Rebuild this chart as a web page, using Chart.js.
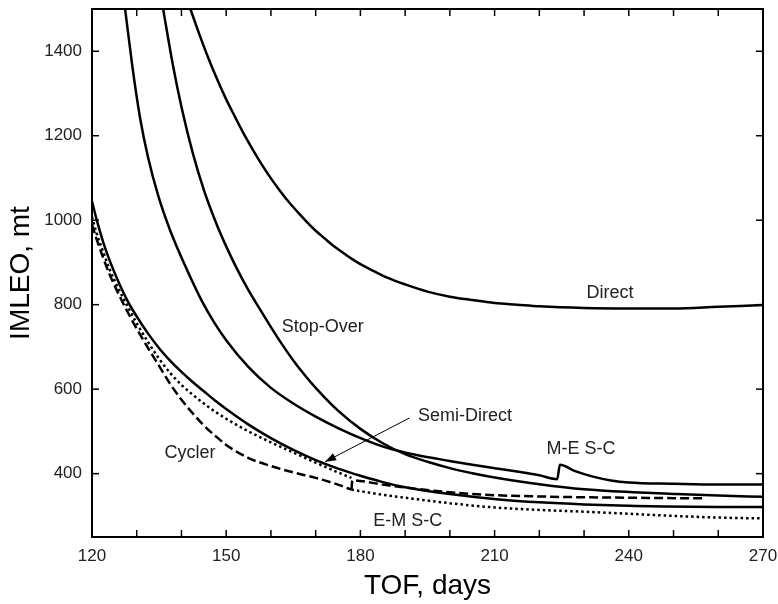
<!DOCTYPE html>
<html>
<head>
<meta charset="utf-8">
<script src="https://cdn.jsdelivr.net/npm/chart.js@4.4.0/dist/chart.umd.min.js"></script>
<style>
  html, body { margin: 0; padding: 0; background: #fff; }
  canvas { display: block; }
</style>
</head>
<body>
<canvas id="graficoImleo" width="778" height="604"></canvas>
<script>
// ===================== DATOS =====================
// TOF (days) -> IMLEO (mt)

const directX = [142, 144, 146, 148, 150, 152, 154, 156, 158, 160, 162, 164, 166, 168, 170, 172, 174, 176, 178, 180, 182, 186, 190, 195, 200, 205, 210, 215, 220, 230, 240, 250, 260, 270];
const directY = [1500, 1440, 1384, 1333, 1286, 1244, 1203, 1166, 1131, 1099, 1070, 1043, 1019, 996, 975, 957, 939, 924, 909, 896, 885, 864, 848, 831, 819, 811, 804, 800, 796, 792, 791, 791, 795, 799];

const stopOverX = [135.9, 138, 140, 142.5, 145, 147.5, 150, 152.5, 155, 157.5, 160, 162.5, 165, 167.5, 170, 175, 180, 185, 190, 195, 200, 205, 211, 220, 230, 241, 250, 260, 270];
const stopOverY = [1500, 1372, 1268, 1160, 1072, 1000, 938, 883, 834, 790, 747, 706, 668, 634, 603, 549, 506, 472, 446, 428, 413, 401, 389, 375, 363, 356, 352, 348, 345];

const mescX = [127.4, 129, 130.7, 132.5, 134.8, 137.5, 140.7, 144.4, 147.2, 150, 155, 160, 165, 170, 175, 181, 186, 192.6, 200, 205, 210, 215, 220, 224, 224.6, 228, 232, 236, 240, 250, 260, 270];
const mescY = [1500, 1366, 1245, 1150, 1058, 975, 895, 812, 760, 716, 652, 603, 566, 535, 508, 480, 461, 444, 430, 421, 413, 405, 396, 387, 421, 406, 393, 384, 379, 376, 374, 374];

const semiDirectX = [120, 121, 122.5, 124, 126, 128, 130, 132.5, 135, 137.5, 140, 142.5, 145, 147.5, 150, 155, 160, 165, 170, 175, 180, 185, 190, 200, 211, 220, 230, 240, 248, 260, 270];
const semiDirectY = [1045, 1003, 948, 903, 852, 808, 772, 732, 697, 667, 641, 617, 595, 573, 553, 516, 484, 456, 432, 412, 395, 380, 368, 352, 339, 332, 327, 324, 322, 321, 321];

const cyclerDashX = [120, 121, 122.5, 124, 126, 128, 130, 132.5, 135, 137.5, 140, 142.5, 145, 147.5, 150, 155, 160, 165, 170, 175, 178];
const cyclerDashY = [990, 956, 911, 870, 824, 782, 743, 698, 655, 612, 575, 543, 514, 490, 468, 437, 418, 403, 390, 374, 362];

const cyclerDotX = [120, 121, 122.5, 124, 126, 128, 130, 132.5, 135, 137.5, 140, 142.5, 145, 147.5, 150, 155, 160, 165, 170, 175, 178];
const cyclerDotY = [1008, 970, 925, 882, 836, 795, 756, 712, 672, 638, 610, 587, 566, 547, 530, 500, 474, 450, 426, 403, 390];

const dashRightX = [178, 178.2, 185, 190, 200, 210, 220, 230, 240, 250, 257];
const dashRightY = [362, 384, 374, 367, 356, 349, 346, 344, 343, 342, 342];

const emscX = [178, 185, 190, 200, 210, 220, 230, 240, 250, 260, 270];
const emscY = [362, 350, 343, 330, 320, 314, 310, 305, 300, 296, 294];

const xTickLabels = [120, 150, 180, 210, 240, 270];
const xTickMarks  = [120, 130, 140, 150, 160, 170, 180, 190, 200, 210, 220, 230, 240, 250, 260, 270];
const yTickLabels = [400, 600, 800, 1000, 1200, 1400];

// Etiquetas dentro del gráfico (en coordenadas de datos)
const etiquetas = [
  { text: "Direct",      x: 235.8, y: 827 },
  { text: "Stop-Over",   x: 171.6, y: 747 },
  { text: "Semi-Direct", x: 203.4, y: 536 },
  { text: "M-E S-C",     x: 229.3, y: 458 },
  { text: "Cycler",      x: 141.9, y: 449 },
  { text: "E-M S-C",     x: 190.6, y: 288 },
];
const flecha = { desde: { x: 191.0, y: 532 }, hasta: { x: 172.1, y: 428 } };

const FUENTE = "'Liberation Sans', Arial, sans-serif";

// ===================== HELPERS =====================

function puntos(xs, ys) {
  return xs.map((x, i) => ({ x, y: ys[i] }));
}

function serie(label, xs, ys, dash) {
  return {
    label,
    data: puntos(xs, ys),
    borderColor: "#000",
    borderWidth: 2.5,
    borderDash: dash || [],
    pointRadius: 0,
    fill: false,
    cubicInterpolationMode: "monotone",
  };
}

// sin relleno extra de Chart.js: el área del gráfico queda fija
function fijarTamano(s, prop, valor) {
  s[prop] = valor;
  s.paddingTop = 0;
  s.paddingBottom = 0;
  s.paddingLeft = 0;
  s.paddingRight = 0;
}

// marco, ticks hacia adentro, etiquetas y flecha
const marcoPlugin = {
  id: "marco",
  afterDatasetsDraw(chart) {
    const { ctx, chartArea: a, scales: { x, y } } = chart;
    ctx.save();
    ctx.strokeStyle = "#000";
    ctx.lineWidth = 1.5;

    const linea = (x1, y1, x2, y2) => {
      ctx.beginPath();
      ctx.moveTo(x1, y1);
      ctx.lineTo(x2, y2);
      ctx.stroke();
    };

    xTickMarks.forEach(v => {
      const px = x.getPixelForValue(v);
      linea(px, a.bottom, px, a.bottom - 7);
      linea(px, a.top, px, a.top + 7);
    });
    yTickLabels.forEach(v => {
      const py = y.getPixelForValue(v);
      linea(a.left, py, a.left + 7, py);
      linea(a.right, py, a.right - 7, py);
    });

    ctx.lineWidth = 2;
    ctx.strokeRect(a.left, a.top, a.right - a.left, a.bottom - a.top);

    // etiquetas
    ctx.fillStyle = "#222";
    ctx.font = `18px ${FUENTE}`;
    ctx.textAlign = "center";
    ctx.textBaseline = "middle";
    etiquetas.forEach(e => {
      ctx.fillText(e.text, x.getPixelForValue(e.x), y.getPixelForValue(e.y));
    });

    // flecha Semi-Direct
    const x1 = x.getPixelForValue(flecha.desde.x), y1 = y.getPixelForValue(flecha.desde.y);
    const x2 = x.getPixelForValue(flecha.hasta.x), y2 = y.getPixelForValue(flecha.hasta.y);
    ctx.lineWidth = 1;
    linea(x1, y1, x2, y2);
    const ang = Math.atan2(y2 - y1, x2 - x1);
    ctx.fillStyle = "#000";
    ctx.beginPath();
    ctx.moveTo(x2, y2);
    ctx.lineTo(x2 - 11 * Math.cos(ang) + 4 * Math.sin(ang), y2 - 11 * Math.sin(ang) - 4 * Math.cos(ang));
    ctx.lineTo(x2 - 11 * Math.cos(ang) - 4 * Math.sin(ang), y2 - 11 * Math.sin(ang) + 4 * Math.cos(ang));
    ctx.closePath();
    ctx.fill();

    ctx.restore();
  },
};

// ===================== GRÁFICO =====================

document.addEventListener("DOMContentLoaded", () => {
  const canvas = document.getElementById("graficoImleo");

  new Chart(canvas.getContext("2d"), {
    type: "line",
    data: {
      datasets: [
        serie("Direct", directX, directY),
        serie("Stop-Over", stopOverX, stopOverY),
        serie("M-E S-C", mescX, mescY),
        serie("Semi-Direct", semiDirectX, semiDirectY),
        serie("Cycler", cyclerDashX, cyclerDashY, [9, 4]),
        serie("Cycler (dotted)", cyclerDotX, cyclerDotY, [2.5, 3]),
        serie("Dashed", dashRightX, dashRightY, [9, 4]),
        serie("E-M S-C", emscX, emscY, [2.5, 3]),
      ],
    },
    options: {
      responsive: false,
      animation: false,
      devicePixelRatio: 1,
      layout: { padding: { top: 9, right: 15, left: 0, bottom: 0 } },
      plugins: { legend: { display: false }, tooltip: { enabled: false } },
      scales: {
        x: {
          type: "linear",
          min: 120,
          max: 270,
          grid: { display: false, drawTicks: false },
          border: { display: false },
          afterBuildTicks: s => { s.ticks = xTickLabels.map(v => ({ value: v })); },
          afterFit: s => fijarTamano(s, "height", 67),
          ticks: { padding: 9, maxRotation: 0, autoSkip: false, color: "#222", font: { family: FUENTE, size: 17 }, callback: v => String(v) },
          title: {
            display: true,
            text: "TOF, days",
            color: "#000",
            font: { family: FUENTE, size: 28 },
            padding: { top: 0, bottom: 1 },
          },
        },
        y: {
          type: "linear",
          min: 250,
          max: 1500,
          grid: { display: false, drawTicks: false },
          border: { display: false },
          afterBuildTicks: s => { s.ticks = yTickLabels.map(v => ({ value: v })); },
          afterFit: s => fijarTamano(s, "width", 92),
          ticks: { padding: 10, color: "#222", font: { family: FUENTE, size: 17 }, callback: v => String(v) },
          title: {
            display: true,
            text: "IMLEO, mt",
            color: "#000",
            font: { family: FUENTE, size: 28 },
            padding: { top: 4, bottom: 0 },
          },
        },
      },
    },
    plugins: [marcoPlugin],
  });
});
</script>
</body>
</html>
